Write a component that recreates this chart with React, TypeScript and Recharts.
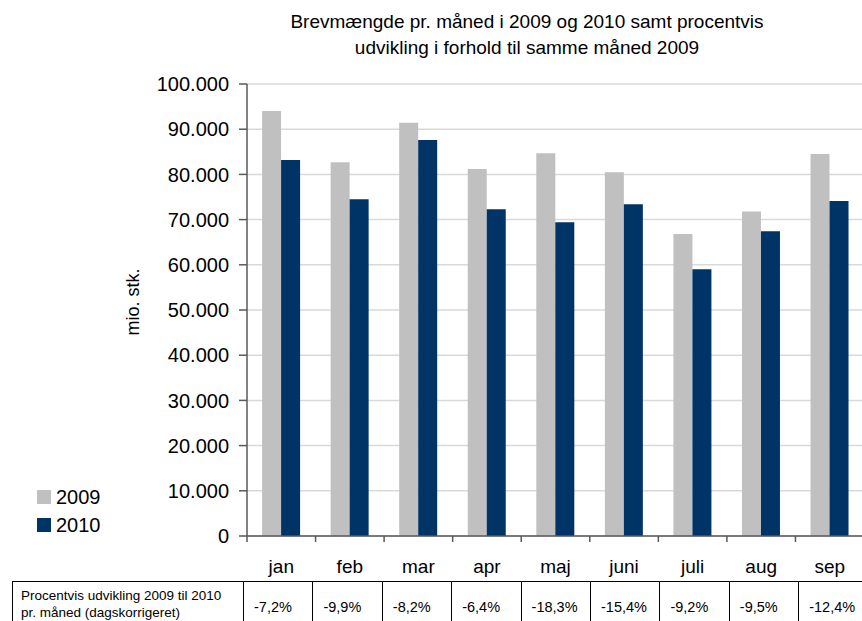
import { BarChart, Bar, XAxis, YAxis, CartesianGrid } from "recharts";

const months = ["jan", "feb", "mar", "apr", "maj", "juni", "juli", "aug", "sep"];
const volume2009 = [94000, 82700, 91400, 81200, 84700, 80500, 66800, 71800, 84500];
const volume2010 = [83200, 74500, 87600, 72300, 69400, 73400, 59000, 67400, 74100];
const changePct = ["-7,2%", "-9,9%", "-8,2%", "-6,4%", "-18,3%", "-15,4%", "-9,2%", "-9,5%", "-12,4%"];
const yTicks = [0, 10000, 20000, 30000, 40000, 50000, 60000, 70000, 80000, 90000, 100000];
const seriesNames = ["2009", "2010"];

const FONT = "'Liberation Sans', Arial, sans-serif";
const GREY = "#c0c0c0";
const NAVY = "#003366";
const AXIS = "#595959";

const CHART_W = 864;
const CHART_H = 621;
const PLOT_LEFT = 247;
const BAND = (CHART_W - PLOT_LEFT) / months.length;

const data = months.map((m, i) => ({ month: m, v2009: volume2009[i], v2010: volume2010[i] }));

const fmt = (v: number) => String(v).replace(/\B(?=(\d{3})+(?!\d))/g, ".");

function MonthTick(props: any) {
  const { x, y, payload } = props;
  const edge = x - BAND / 2;
  return (
    <g>
      <line x1={edge} x2={edge} y1={y} y2={y + 6} stroke={AXIS} strokeWidth={1.5} />
      <text x={x} y={y + 37} textAnchor="middle" fontSize={19} fill="#000" fontFamily={FONT}>
        {payload.value}
      </text>
    </g>
  );
}

function AxisTitle() {
  return (
    <text
      x={133}
      y={302}
      transform="rotate(-90 133 302)"
      textAnchor="middle"
      dominantBaseline="central"
      fontSize={18}
      fill="#000"
      fontFamily={FONT}
    >
      mio. stk.
    </text>
  );
}

export default function App() {
  return (
    <div
      style={{
        position: "absolute",
        left: 0,
        top: 0,
        width: 862,
        height: 621,
        overflow: "hidden",
        background: "#fff",
        fontFamily: FONT,
      }}
    >
      <div
        style={{
          position: "absolute",
          left: 222,
          width: 610,
          top: 9,
          textAlign: "center",
          fontSize: 19,
          lineHeight: "26px",
          color: "#000",
        }}
      >
        <div>Brevmængde pr. måned i 2009 og 2010 samt procentvis</div>
        <div>udvikling i forhold til samme måned 2009</div>
      </div>

      <div style={{ position: "absolute", left: 0, top: 0 }}>
        <BarChart
          width={CHART_W}
          height={CHART_H}
          data={data}
          margin={{ top: 84, right: 0, bottom: 45, left: 0 }}
          barCategoryGap="22%"
          barGap={0}
        >
          <CartesianGrid vertical={false} stroke="#d9d9d9" strokeWidth={1.5} />
          <XAxis
            dataKey="month"
            height={40}
            axisLine={{ stroke: AXIS, strokeWidth: 1.5 }}
            tickLine={false}
            tickSize={0}
            tickMargin={0}
            tick={<MonthTick />}
            interval={0}
          />
          <YAxis
            width={PLOT_LEFT}
            domain={[0, 100000]}
            ticks={yTicks}
            interval={0}
            tickFormatter={fmt}
            axisLine={{ stroke: AXIS, strokeWidth: 1.5 }}
            tickLine={{ stroke: AXIS, strokeWidth: 1.5 }}
            tickSize={8}
            tickMargin={10}
            tick={{ fontSize: 20, fill: "#000", fontFamily: FONT }}
            label={{ content: () => <AxisTitle /> }}
          />
          <Bar dataKey="v2009" name={seriesNames[0]} fill={GREY} isAnimationActive={false} />
          <Bar dataKey="v2010" name={seriesNames[1]} fill={NAVY} isAnimationActive={false} />
        </BarChart>
      </div>

      {/* legend */}
      {seriesNames.map((name, i) => (
        <div
          key={name}
          style={{ position: "absolute", left: 37, top: 487 + i * 28, display: "flex", alignItems: "center" }}
        >
          <div style={{ width: 14, height: 14, background: i === 0 ? GREY : NAVY }} />
          <span style={{ marginLeft: 5, fontSize: 20, lineHeight: "20px", color: "#000" }}>{name}</span>
        </div>
      ))}

      {/* percentage table */}
      <div
        style={{
          position: "absolute",
          left: 12,
          top: 581,
          width: 232,
          height: 60,
          boxSizing: "border-box",
          border: "1px solid #000",
          padding: "5px 0 0 8px",
          fontSize: 13.5,
          lineHeight: "17px",
          color: "#000",
          whiteSpace: "nowrap",
        }}
      >
        Procentvis udvikling 2009 til 2010
        <br />
        pr. måned (dagskorrigeret)
      </div>
      {changePct.map((p, i) => (
        <div
          key={months[i]}
          style={{
            position: "absolute",
            left: 243 + i * 69.4,
            top: 581,
            width: 70.4,
            height: 60,
            boxSizing: "border-box",
            border: "1px solid #000",
            paddingLeft: 10,
            paddingTop: 16,
            fontSize: 14.5,
            lineHeight: "18px",
            color: "#000",
          }}
        >
          {p}
        </div>
      ))}
    </div>
  );
}
